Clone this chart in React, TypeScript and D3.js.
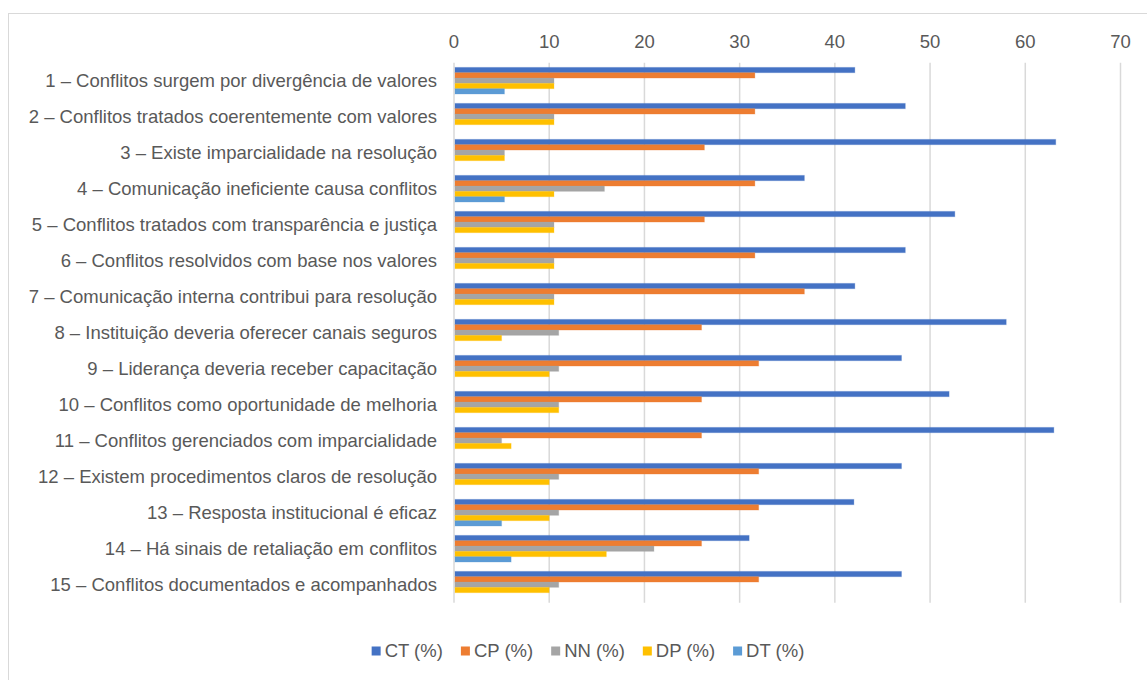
import React, { useEffect, useRef } from "react";
import * as d3 from "d3";

// categories (top to bottom)
const categories = [
  "1 – Conflitos surgem por divergência de valores",
  "2 – Conflitos tratados coerentemente com valores",
  "3 – Existe imparcialidade na resolução",
  "4 – Comunicação ineficiente causa conflitos",
  "5 – Conflitos tratados com transparência e justiça",
  "6 – Conflitos resolvidos com base nos valores",
  "7 – Comunicação interna contribui para resolução",
  "8 – Instituição deveria oferecer canais seguros",
  "9 – Liderança deveria receber capacitação",
  "10 – Conflitos como oportunidade de melhoria",
  "11 – Conflitos gerenciados com imparcialidade",
  "12 – Existem procedimentos claros de resolução",
  "13 – Resposta institucional é eficaz",
  "14 – Há sinais de retaliação em conflitos",
  "15 – Conflitos documentados e acompanhados",
];

const seriesNames = ["CT (%)", "CP (%)", "NN (%)", "DP (%)", "DT (%)"];
const seriesColors = ["#4472C4", "#ED7D31", "#A5A5A5", "#FFC000", "#5B9BD5"];

const ctValues = [42.1, 47.4, 63.2, 36.8, 52.6, 47.4, 42.1, 58, 47, 52, 63, 47, 42, 31, 47];
const cpValues = [31.6, 31.6, 26.3, 31.6, 26.3, 31.6, 36.8, 26, 32, 26, 26, 32, 32, 26, 32];
const nnValues = [10.5, 10.5, 5.3, 15.8, 10.5, 10.5, 10.5, 11, 11, 11, 5, 11, 11, 21, 11];
const dpValues = [10.5, 10.5, 5.3, 10.5, 10.5, 10.5, 10.5, 5, 10, 11, 6, 10, 10, 16, 10];
const dtValues = [5.3, 0, 0, 5.3, 0, 0, 0, 0, 0, 0, 0, 0, 5, 6, 0];

const xTicks = [0, 10, 20, 30, 40, 50, 60, 70];

const FONT = "'Liberation Sans', Arial, sans-serif";

export default function App() {
  const svgRef = useRef<SVGSVGElement>(null);

  useEffect(() => {
    if (!svgRef.current) return;
    const svg = d3.select(svgRef.current);
    svg.selectAll("*").remove();

    const width = 1147;
    const height = 680;
    const plot = { left: 454, right: 1120.5, top: 62.7, bottom: 602.7 };

    // chart frame
    svg
      .append("rect")
      .attr("x", 8.5)
      .attr("y", 13.5)
      .attr("width", 1160)
      .attr("height", 700)
      .attr("fill", "#fff")
      .attr("stroke", "#d9d9d9")
      .attr("stroke-width", 1);

    const x = d3.scaleLinear().domain([0, 70]).range([plot.left, plot.right]);
    const y = d3
      .scaleBand<string>()
      .domain(categories)
      .range([plot.top, plot.bottom])
      .paddingInner(0.26)
      .paddingOuter(0.13);
    const ySub = d3
      .scaleBand<number>()
      .domain(d3.range(seriesNames.length))
      .range([0, y.bandwidth()]);

    const allSeries = [ctValues, cpValues, nnValues, dpValues, dtValues];

    // gridlines
    svg
      .append("g")
      .selectAll("line")
      .data(xTicks)
      .enter()
      .append("line")
      .attr("x1", (d) => x(d))
      .attr("x2", (d) => x(d))
      .attr("y1", plot.top)
      .attr("y2", plot.bottom)
      .attr("stroke", "#d9d9d9")
      .attr("stroke-width", 1.5);

    // tick labels at top
    svg
      .append("g")
      .selectAll("text")
      .data(xTicks)
      .enter()
      .append("text")
      .attr("x", (d) => x(d))
      .attr("y", 42)
      .attr("dy", "0.35em")
      .attr("text-anchor", "middle")
      .attr("fill", "#595959")
      .style("font-family", FONT)
      .style("font-size", "18.5px")
      .text((d) => d);

    // bars
    const groups = svg
      .append("g")
      .selectAll(".cat")
      .data(categories)
      .enter()
      .append("g")
      .attr("class", "cat")
      .attr("transform", (d) => `translate(0, ${y(d)})`);

    groups
      .selectAll("rect")
      .data((d, i) => allSeries.map((s, k) => ({ k, v: s[i] })))
      .enter()
      .append("rect")
      .attr("x", x(0) + 1)
      .attr("y", (d) => ySub(d.k) as number)
      .attr("width", (d) => Math.max(0, x(d.v) - x(0) - 1))
      .attr("height", ySub.bandwidth())
      .attr("fill", (d) => seriesColors[d.k])
      .attr("stroke", (d) => seriesColors[d.k])
      .attr("stroke-opacity", 0.25)
      .attr("stroke-width", (d) => (d.v > 0 ? 1 : 0));

    // category labels
    svg
      .append("g")
      .selectAll("text")
      .data(categories)
      .enter()
      .append("text")
      .attr("x", 437)
      .attr("y", (d) => (y(d) as number) + y.bandwidth() / 2)
      .attr("dy", "0.35em")
      .attr("text-anchor", "end")
      .attr("fill", "#595959")
      .style("font-family", FONT)
      .style("font-size", "18.5px")
      .text((d) => d);

    // legend
    const legend = svg.append("g");
    const items = legend
      .selectAll("g")
      .data(seriesNames)
      .enter()
      .append("g");
    items
      .append("rect")
      .attr("width", 9)
      .attr("height", 9)
      .attr("y", -4.5)
      .attr("fill", (d, i) => seriesColors[i]);
    items
      .append("text")
      .attr("x", 13)
      .attr("dy", "0.35em")
      .attr("fill", "#595959")
      .style("font-family", FONT)
      .style("font-size", "18.5px")
      .text((d) => d);

    let offset = 0;
    const gap = 18;
    items.each(function () {
      const g = d3.select(this);
      const w = (g.node() as SVGGElement).getBBox().width;
      g.attr("transform", `translate(${offset}, 0)`);
      offset += w + gap;
    });
    const total = offset - gap;
    legend.attr("transform", `translate(${588 - total / 2}, 651)`);

    svg.attr("width", width).attr("height", height);
  }, []);

  return (
    <svg
      ref={svgRef}
      width={1147}
      height={680}
      style={{ position: "absolute", left: 0, top: 0, background: "#fff" }}
    />
  );
}
